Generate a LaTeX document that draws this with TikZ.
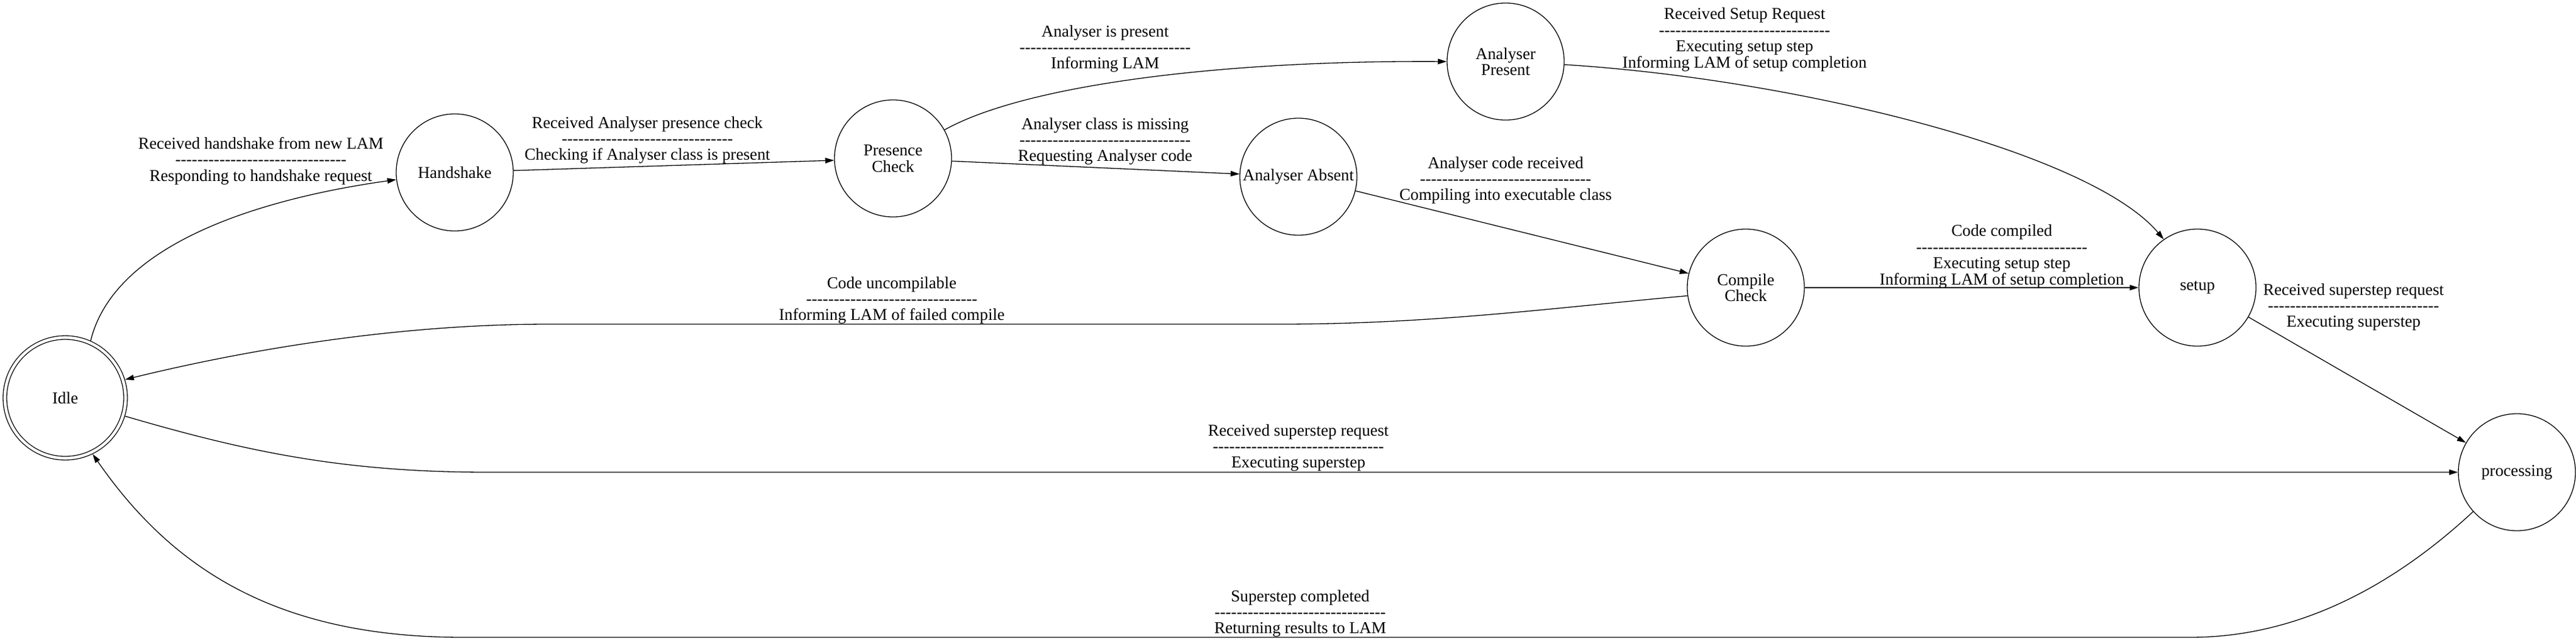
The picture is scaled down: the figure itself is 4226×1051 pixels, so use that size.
\documentclass[tikz,border=0pt]{standalone}
\usepackage{fontspec}
\setmainfont{Liberation Serif}
\usetikzlibrary{arrows.meta}

\newcommand{\sepline}{\foreach \k in {1,...,31}{-\kern0pt}}

\tikzset{
  state/.style={circle, draw, line width=0.67pt, minimum size=98.8pt, inner sep=1pt,
    align=center, font=\fontsize{14}{13.6}\selectfont},
  final/.style={state, double, double distance=2.4pt, minimum size=101.85pt, outer sep=1.87pt},
  trans/.style={line width=0.67pt, -{Triangle[length=7.5pt, width=4.6pt]}},
  lbl/.style={align=center, inner sep=0pt, font=\fontsize{14}{13.6}\selectfont}
}

\begin{document}
\begin{tikzpicture}[x=0.5144pt, y=-0.5144pt]

\useasboundingbox (0, 0) rectangle (4226, 1051);

\node [final] (idle) at (107, 653) {Idle};
\node [state] (handshake) at (746, 283) {Handshake};
\node [state] (presence) at (1465, 260) {Presence\\Check};
\node [state] (present) at (2470, 101) {Analyser\\Present};
\node [state] (absent) at (2130, 290) {Analyser Absent};
\node [state] (compile) at (2864, 472) {Compile\\Check};
\node [state] (setup) at (3605, 472) {setup};
\node [state] (processing) at (4129, 775) {processing};

\node [lbl] (t1) at (428, 264) {Received handshake from new LAM\\\sepline\\Responding to handshake request};
\node [lbl] (t2) at (1062, 230) {Received Analyser presence check\\\sepline\\Checking if Analyser class is present};
\node [lbl] (t3) at (1813, 80) {Analyser is present\\\sepline\\Informing LAM};
\node [lbl] (t4) at (1813, 232) {Analyser class is missing\\\sepline\\Requesting Analyser code};
\node [lbl] (t5) at (2470, 296) {Analyser code received\\\sepline\\Compiling into executable class};
\node [lbl] (t6) at (2862, 65) {Received Setup Request\\\sepline\\Executing setup step\\Informing LAM of setup completion};
\node [lbl] (t7) at (3284, 421) {Code compiled\\\sepline\\Executing setup step\\Informing LAM of setup completion};
\node [lbl] (t8) at (1463, 493) {Code uncompilable\\\sepline\\Informing LAM of failed compile};
\node [lbl] (t9) at (2130, 735) {Received superstep request\\\sepline\\Executing superstep};
\node [lbl] (t10) at (3861, 504) {Received superstep request\\\sepline\\Executing superstep};
\node [lbl] (t11) at (2133, 1007) {Superstep completed\\\sepline\\Returning results to LAM};

\draw [trans] (idle.66) .. controls (185, 410) and (400, 330) .. (handshake.187);
\draw [trans] (handshake) -- (presence);
\draw [trans] (presence.29) .. controls (1680, 140) and (2000, 99) .. (present.180);
\draw [trans] (presence) -- (absent);
\draw [trans] (absent) -- (compile);
\draw [trans] (present.-3) .. controls (2950, 130) and (3430, 250) .. (setup.125);
\draw [trans] (compile) -- (setup);
\draw [trans] (compile.188) .. controls (2550, 505) and (2350, 532) .. (2100, 532) -- (900, 532)
  .. controls (650, 532) and (400, 575) .. (idle.17);
\draw [trans] (idle.-17) .. controls (400, 740) and (560, 775) .. (800, 775) -- (processing.west);
\draw [trans] (setup) -- (processing);
\draw [trans] (processing.222) .. controls (3960, 930) and (3800, 1046) .. (3593, 1046) -- (760, 1046)
  .. controls (450, 1046) and (280, 930) .. (idle.-64);

\end{tikzpicture}
\end{document}
